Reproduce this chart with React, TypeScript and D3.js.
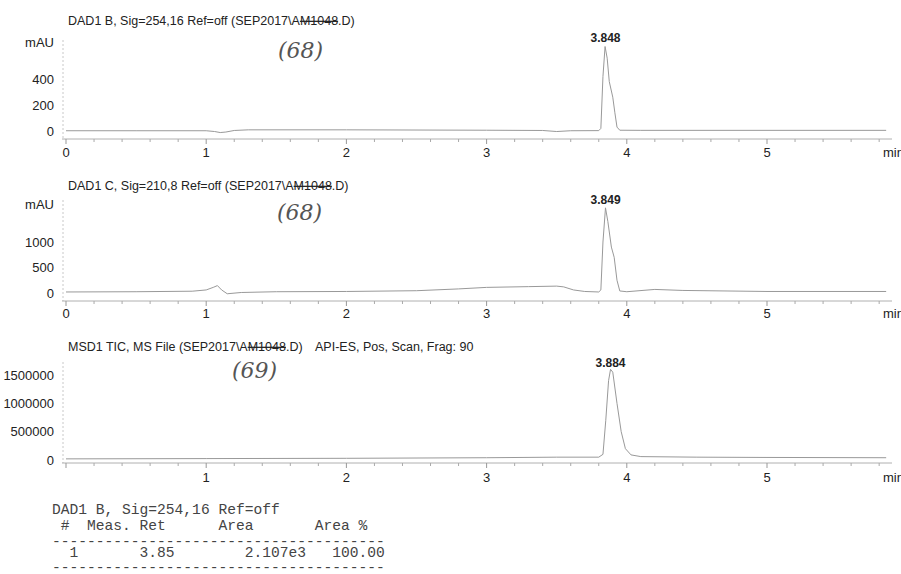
import React from "react";
import * as d3 from "d3";

const width = 901;
const height = 574;
const sans = "'Liberation Sans', Arial, sans-serif";
const mono = "'Liberation Mono', 'Courier New', monospace";

// retention time axis (minutes)
const minuteTicks = [0, 1, 2, 3, 4, 5];
const minorMinuteTicks = [0.2, 0.4, 0.6, 0.8, 1.2, 1.4, 1.6, 1.8, 2.2, 2.4, 2.6, 2.8, 3.2, 3.4, 3.6, 3.8, 4.2, 4.4, 4.6, 4.8, 5.2, 5.4, 5.6, 5.8];

// DAD1 B, 254 nm (mAU)
const dad1bTrace: [number, number][] = [
  [0, 2], [0.5, 2], [1.0, 2], [1.06, -4], [1.1, -12], [1.14, -8], [1.2, 4], [1.3, 9],
  [2.0, 9], [3.0, 6], [3.4, 4], [3.5, -4], [3.6, 2], [3.8, 3], [3.815, 20], [3.83, 420],
  [3.845, 650], [3.86, 560], [3.875, 380], [3.9, 260], [3.915, 140], [3.93, 30], [3.95, 6],
  [4.1, 5], [5.0, 5], [5.85, 5],
];
const dad1bTicks = [0, 200, 400];

// DAD1 C, 210 nm (mAU)
const dad1cTrace: [number, number][] = [
  [0, 20], [0.5, 25], [0.9, 35], [1.0, 60], [1.05, 110], [1.08, 145], [1.11, 60], [1.15, -15],
  [1.25, 10], [1.5, 25], [2.0, 30], [2.5, 45], [2.8, 80], [3.0, 110], [3.3, 125], [3.5, 135],
  [3.55, 120], [3.62, 60], [3.7, 30], [3.8, 20], [3.815, 60], [3.83, 1000], [3.848, 1670],
  [3.865, 1400], [3.89, 900], [3.91, 700], [3.93, 250], [3.95, 40], [4.0, 25], [4.2, 70],
  [4.4, 50], [5.0, 30], [5.85, 30],
];
const dad1cTicks = [0, 500, 1000];

// MSD1 TIC (counts)
const ticTrace: [number, number][] = [
  [0, 20000], [1, 25000], [2, 30000], [3, 40000], [3.5, 50000], [3.8, 50000], [3.83, 100000],
  [3.85, 700000], [3.87, 1400000], [3.884, 1600000], [3.9, 1550000], [3.93, 1000000],
  [3.96, 500000], [3.99, 200000], [4.03, 90000], [4.1, 60000], [4.5, 50000], [5, 45000],
  [5.85, 40000],
];
const ticTicks = [0, 500000, 1000000, 1500000];

const peakTimes = [3.848, 3.849, 3.884];
const peakLabels = ["3.848", "3.849", "3.884"];

const tableTitle = "DAD1 B, Sig=254,16 Ref=off";
const tableHeader = " #  Meas. Ret      Area       Area %";
const tableRows = ["  1       3.85        2.107e3   100.00"];
const dashes = "--------------------------------------";

const x = d3.scaleLinear().domain([0, 5]).range([66, 767]);

const panels = [
  {
    pre: "DAD1 B, Sig=254,16 Ref=off (SEP2017\\A", struck: "M1048", post: ".D)", extra: "",
    trace: dad1bTrace, ticks: dad1bTicks, unit: "mAU",
    y: d3.scaleLinear().domain([0, 400]).range([131, 79]),
    titleY: 25, unitY: 47, top: 40, axisY: 139, labelY: 157, zeroLabel: true,
    note: "(68)", noteX: 278, noteY: 58, peakY: 44,
  },
  {
    pre: "DAD1 C, Sig=210,8 Ref=off (SEP2017\\A", struck: "M1048", post: ".D)", extra: "",
    trace: dad1cTrace, ticks: dad1cTicks, unit: "mAU",
    y: d3.scaleLinear().domain([0, 1000]).range([293, 242]),
    titleY: 190, unitY: 209, top: 200, axisY: 301, labelY: 318, zeroLabel: true,
    note: "(68)", noteX: 277, noteY: 220, peakY: 206,
  },
  {
    pre: "MSD1 TIC, MS File (SEP2017\\A", struck: "M1048", post: ".D)", extra: "API-ES, Pos, Scan, Frag: 90",
    trace: ticTrace, ticks: ticTicks, unit: "",
    y: d3.scaleLinear().domain([0, 1500000]).range([460, 375]),
    titleY: 351, unitY: 0, top: 362, axisY: 463, labelY: 482, zeroLabel: false,
    note: "(69)", noteX: 232, noteY: 378, peakY: 369,
  },
];

const Panel = ({ p, i }: { p: any; i: number }) => {
  const line = d3.line<[number, number]>().x(d => x(d[0])).y(d => p.y(d[1]));
  return (
    <g>
      <text x={68} y={p.titleY} fontFamily={sans} fontSize={12.5} fill="#222">
        {p.pre}
        <tspan textDecoration="line-through">{p.struck}</tspan>
        {p.post}
      </text>
      {p.extra && (
        <text x={315} y={p.titleY} fontFamily={sans} fontSize={12.5} fill="#222">{p.extra}</text>
      )}
      <text x={p.noteX} y={p.noteY} fontFamily="'DejaVu Serif', serif" fontStyle="italic" fontSize={22} fill="#555">{p.note}</text>
      {p.unit && (
        <text x={54} y={p.unitY} textAnchor="end" fontFamily={sans} fontSize={13} fill="#222">{p.unit}</text>
      )}
      <line x1={63} x2={63} y1={p.top} y2={p.axisY} stroke="#c8c8c8" strokeDasharray="2,2" />
      {p.ticks.map((t: number) => (
        <text key={t} x={54} y={p.y(t)} dy="0.35em" textAnchor="end" fontFamily={sans} fontSize={13} fill="#222">{t}</text>
      ))}
      <line x1={62} x2={892} y1={p.axisY} y2={p.axisY} stroke="#b0b0b0" />
      {minuteTicks.map(t => (
        <line key={t} x1={x(t)} x2={x(t)} y1={p.axisY} y2={p.axisY + 5} stroke="#999" />
      ))}
      {minorMinuteTicks.map(t => (
        <line key={t} x1={x(t)} x2={x(t)} y1={p.axisY} y2={p.axisY + 3} stroke="#aaa" />
      ))}
      {minuteTicks.filter(t => p.zeroLabel || t > 0).map(t => (
        <text key={t} x={x(t)} y={p.labelY} textAnchor="middle" fontFamily={sans} fontSize={13} fill="#222">{t}</text>
      ))}
      <text x={883} y={p.labelY} fontFamily={sans} fontSize={13} fill="#222">min</text>
      <path d={line(p.trace) || ""} fill="none" stroke="#999" strokeWidth={1} strokeLinejoin="round" />
      <text x={x(peakTimes[i])} y={p.peakY} dy="-0.2em" textAnchor="middle" fontFamily={sans} fontWeight="bold" fontSize={12} fill="#222">{peakLabels[i]}</text>
    </g>
  );
};

export default function App() {
  const rowY = [514, 530, 546, 557, 572];
  const tableLines = [tableTitle, tableHeader, dashes, ...tableRows, dashes];
  return (
    <svg width={width} height={height} viewBox={`0 0 ${width} ${height}`}
      style={{ position: "absolute", left: 0, top: 0, background: "#fff" }}>
      <rect width={width} height={height} fill="#fff" />
      {panels.map((p, i) => <Panel key={i} p={p} i={i} />)}
      {tableLines.map((s, k) => (
        <text key={k} x={52} y={rowY[k]} fontFamily={mono} fontSize={14.6} fill="#444" style={{ whiteSpace: "pre" }}>{s}</text>
      ))}
    </svg>
  );
}
